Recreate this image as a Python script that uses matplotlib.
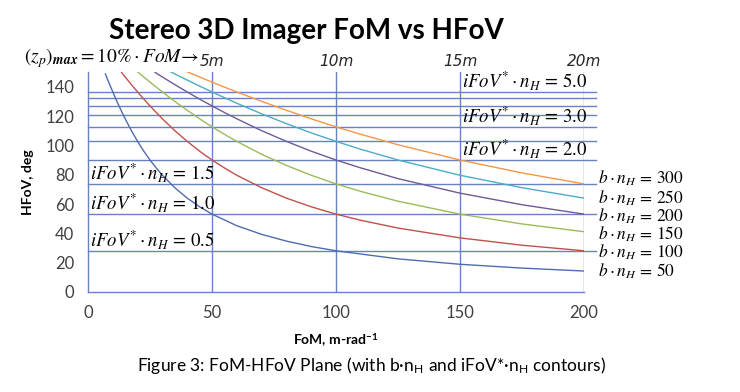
import matplotlib
matplotlib.use('Agg')
import matplotlib.pyplot as plt

# ---- data -----------------------------------------------------------------
# b*n_H contour curves: FoM (m-rad^-1) vs HFoV (deg)
fom_50 = [7, 8, 9, 10, 11, 12, 13.5, 15, 17.5, 20, 22.5, 25, 27.5, 30, 35, 40, 45,
          50, 60, 70, 80, 90, 100, 125, 150, 175, 200]
hfov_50 = [148.7, 144.5, 140.4, 136.4, 132.5, 128.7, 123.3, 118.1, 110.0, 102.7,
           96.0, 90.0, 84.6, 79.6, 71.1, 64.0, 58.1, 53.1, 45.2, 39.3, 34.7, 31.0,
           28.1, 22.6, 18.9, 16.3, 14.3]

fom_100 = [13.5, 14, 15, 16, 18, 20, 22, 24, 27, 30, 35, 40, 45, 50, 55, 60, 70,
           80, 90, 100, 110, 125, 150, 175, 200]
hfov_100 = [149.8, 148.7, 146.6, 144.5, 140.4, 136.4, 132.5, 128.7, 123.3, 118.1,
            110.0, 102.7, 96.0, 90.0, 84.6, 79.6, 71.1, 64.0, 58.1, 53.1, 48.9,
            43.6, 36.9, 31.9, 28.1]

fom_150 = [20, 21, 22.5, 25, 27, 30, 33, 36, 40, 45, 50, 55, 60, 70, 80, 90, 100,
           110, 125, 150, 175, 200]
hfov_150 = [150.1, 148.7, 146.6, 143.1, 140.4, 136.4, 132.5, 128.7, 123.9, 118.1,
            112.6, 107.5, 102.7, 93.9, 86.3, 79.6, 73.7, 68.6, 61.9, 53.1, 46.4, 41.1]

fom_200 = [27, 28, 30, 35, 40, 45, 50, 55, 60, 70, 80, 90, 100, 110, 125, 150, 175, 200]
hfov_200 = [149.8, 148.7, 146.6, 141.4, 136.4, 131.5, 126.9, 122.4, 118.1, 110.0,
            102.7, 96.0, 90.0, 84.6, 77.3, 67.4, 59.5, 53.1]

fom_250 = [33.5, 35, 40, 45, 50, 55, 60, 70, 80, 90, 100, 110, 125, 150, 175, 200]
hfov_250 = [150.0, 148.7, 144.5, 140.4, 136.4, 132.5, 128.7, 121.5, 114.8, 108.5,
            102.7, 97.3, 90.0, 79.6, 71.1, 64.0]

fom_300 = [40, 42, 45, 50, 55, 60, 70, 80, 90, 100, 110, 125, 150, 175, 200]
hfov_300 = [150.1, 148.7, 146.6, 143.1, 139.7, 136.4, 130.0, 123.9, 118.1, 112.6,
            107.5, 100.4, 90.0, 81.2, 73.7]

bn_labels = ['50', '100', '150', '200', '250', '300']

# iFoV*·n_H contour lines (HFoV, deg)
ifov_levels = [0.5, 1.0, 1.5, 2.0, 2.5, 3.0, 3.5, 4.0, 4.5, 5.0]
ifov_hfov = [28.1, 53.1, 73.7, 90.0, 102.7, 112.6, 120.5, 126.9, 132.1, 136.4]
ifov_left = ['0.5', '1.0', '1.5']
ifov_right = ['2.0', '3.0', '5.0']

# distance markers along the top
dist_x = [50, 100, 150, 200]
dist_labels = ['5m', '10m', '15m', '20m']

x_ticks = [0, 50, 100, 150, 200]
y_ticks = [0, 20, 40, 60, 80, 100, 120, 140]

# ---- style ------------------------------------------------------------------
plt.rcParams['mathtext.fontset'] = 'stix'
plt.rcParams['font.family'] = ['Lato', 'DejaVu Sans']

GRID = '#6a80c4'
COLS = ['#4f6bb0', '#c0504d', '#9bbb59', '#6f5a9a', '#4bacc6', '#f79646']
TXT = '#262626'
# small vertical nudges so the crowded right-hand labels stay apart
LABEL_NUDGE = [0, -1.0, -2.0, -1.5, 0.0, 3.5]

fig = plt.figure(figsize=(7.4, 3.92), dpi=100)
ax = fig.add_axes([88 / 740, 1 - 292 / 392, 496 / 740, 220 / 392])
ax.set_xlim(0, 200)
ax.set_ylim(0, 150)

for s in ['top', 'right']:
    ax.spines[s].set_visible(False)
for s in ['left', 'bottom']:
    ax.spines[s].set_color(GRID)
    ax.spines[s].set_linewidth(1.0)

# vertical grid / distance lines
for xv in dist_x:
    ax.plot([xv, xv], [0, 150], color=GRID, lw=1.0, zorder=1)

# iFoV*·n_H horizontal lines, running a little past the right edge
for yv in ifov_hfov:
    ax.plot([0, 205], [yv, yv], color=GRID, lw=1.0, zorder=1, clip_on=False)

curves = [(fom_50, hfov_50), (fom_100, hfov_100), (fom_150, hfov_150),
          (fom_200, hfov_200), (fom_250, hfov_250), (fom_300, hfov_300)]
for (xs, ys), col, lab, dy in zip(curves, COLS, bn_labels, LABEL_NUDGE):
    ax.plot(xs, ys, color=col, lw=1.0, zorder=2)
    ax.text(205.5, ys[-1] + dy, r'$b\cdot n_H\,=\,%s$' % lab, fontsize=12.5,
            color='black', ha='left', va='center', clip_on=False)

# iFoV labels
for lev in ifov_left:
    yv = ifov_hfov[ifov_levels.index(float(lev))]
    ax.text(1, yv, r'$iFoV^{*}\cdot n_H\,=\,%s$' % lev, fontsize=13.5,
            color='black', ha='left', va='bottom')
for lev in ifov_right:
    yv = ifov_hfov[ifov_levels.index(float(lev))]
    ax.text(151, yv, r'$iFoV^{*}\cdot n_H\,=\,%s$' % lev, fontsize=13.5,
            color='black', ha='left', va='bottom')

# distance labels on top
for xv, lab in zip(dist_x, dist_labels):
    ax.text(xv, 152, lab, fontsize=11, style='italic', color=TXT,
            ha='center', va='bottom', family='DejaVu Sans')
ax.text(45, 151.5, r'$(\boldsymbol{z_p})_{\boldsymbol{max}}=10\%\cdot FoM\!\rightarrow$',
        fontsize=14, ha='right', va='bottom', color='black', clip_on=False)

ax.set_xticks(x_ticks)
ax.set_yticks(y_ticks)
ax.tick_params(length=0, labelsize=12, labelcolor='#404040', pad=9)
ax.tick_params(axis='y', pad=10)

ax.set_xlabel(r'FoM, m-rad$^{\mathregular{-1}}$', fontsize=10, fontweight='bold',
              labelpad=8)
ax.set_ylabel('HFoV, deg', fontsize=10, fontweight='bold', labelpad=8)

fig.text(306 / 740, 1 - 31 / 392, 'Stereo 3D Imager FoM vs HFoV', fontsize=20,
         fontweight='bold', ha='center', va='center')
fig.text(371 / 740, 1 - 366 / 392,
         'Figure 3: FoM-HFoV Plane (with b\u00b7n$_\\mathregular{H}$ and iFoV*\u00b7n$_\\mathregular{H}$ contours)',
         fontsize=12.5, ha='center', va='center')

fig.savefig('out.png', dpi=100, facecolor='white')
